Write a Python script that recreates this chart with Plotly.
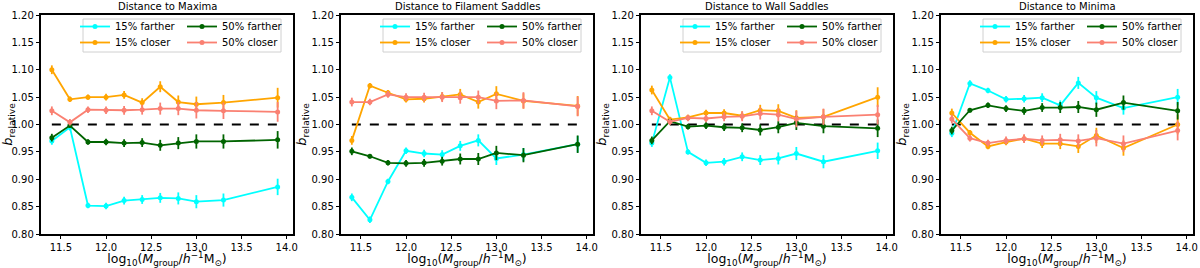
import plotly.graph_objects as go

# ---------------- data ----------------
mass = [11.4, 11.6, 11.8, 12.0, 12.2, 12.4, 12.6, 12.8, 13.0, 13.3, 13.9]

panel_titles = ["Distance to Maxima", "Distance to Filament Saddles",
                "Distance to Wall Saddles", "Distance to Minima"]

series_names = ["15% farther", "15% closer", "50% farther", "50% closer"]
series_colors = ["#00FFFF", "#FFA500", "#006400", "#FA8072"]

# Maxima
max_far15 = [0.970, 0.995, 0.852, 0.851, 0.861, 0.863, 0.866, 0.865, 0.859, 0.862, 0.886]
max_close15 = [1.100, 1.046, 1.050, 1.050, 1.054, 1.040, 1.069, 1.041, 1.037, 1.040, 1.049]
max_far50 = [0.976, 0.998, 0.968, 0.968, 0.966, 0.967, 0.962, 0.966, 0.969, 0.969, 0.972]
max_close50 = [1.025, 1.004, 1.027, 1.026, 1.026, 1.027, 1.029, 1.029, 1.026, 1.025, 1.023]

# Filament saddles
fil_far15 = [0.867, 0.826, 0.896, 0.952, 0.947, 0.945, 0.961, 0.971, 0.938, 0.945, 0.964]
fil_close15 = [0.971, 1.071, 1.058, 1.046, 1.047, 1.051, 1.055, 1.041, 1.056, 1.043, 1.034]
fil_far50 = [0.951, 0.942, 0.930, 0.929, 0.930, 0.933, 0.937, 0.937, 0.948, 0.944, 0.964]
fil_close50 = [1.041, 1.041, 1.055, 1.050, 1.050, 1.050, 1.049, 1.050, 1.043, 1.044, 1.033]

# Wall saddles
wall_far15 = [0.966, 1.086, 0.950, 0.930, 0.932, 0.941, 0.935, 0.938, 0.947, 0.932, 0.952]
wall_close15 = [1.063, 1.009, 1.013, 1.021, 1.021, 1.016, 1.026, 1.025, 1.012, 1.014, 1.050]
wall_far50 = [0.971, 1.006, 0.996, 0.998, 0.995, 0.994, 0.990, 0.995, 1.003, 0.997, 0.993]
wall_close50 = [1.025, 1.005, 1.012, 1.011, 1.014, 1.015, 1.020, 1.018, 1.010, 1.014, 1.018]

# Minima
min_far15 = [0.984, 1.075, 1.062, 1.046, 1.047, 1.049, 1.035, 1.076, 1.049, 1.030, 1.050]
min_close15 = [1.021, 0.985, 0.960, 0.968, 0.974, 0.965, 0.965, 0.960, 0.980, 0.957, 1.000]
min_far50 = [0.989, 1.026, 1.035, 1.029, 1.025, 1.031, 1.031, 1.032, 1.027, 1.040, 1.025]
min_close50 = [1.010, 0.975, 0.966, 0.971, 0.974, 0.971, 0.972, 0.970, 0.975, 0.965, 0.989]

# error bars (half-lengths)
err_far15 = [0.007, 0.006, 0.005, 0.006, 0.007, 0.008, 0.009, 0.011, 0.012, 0.012, 0.015]
err_close15 = [0.008, 0.005, 0.005, 0.006, 0.007, 0.008, 0.010, 0.012, 0.014, 0.014, 0.018]
err_far50 = [0.007, 0.004, 0.005, 0.006, 0.007, 0.008, 0.010, 0.011, 0.013, 0.013, 0.016]
err_close50 = [0.008, 0.006, 0.006, 0.007, 0.008, 0.009, 0.011, 0.012, 0.015, 0.015, 0.018]

panels = [
    [max_far15, max_close15, max_far50, max_close50],
    [fil_far15, fil_close15, fil_far50, fil_close50],
    [wall_far15, wall_close15, wall_far50, wall_close50],
    [min_far15, min_close15, min_far50, min_close50],
]
errors = [err_far15, err_close15, err_far50, err_close50]

reference_level = 1.0

# ---------------- layout geometry ----------------
W, H = 1200, 268
ML, MR, MT, MB = 41, 7, 15, 34
PW = W - ML - MR          # 1152
PH = H - MT - MB          # 219
panel_w = 252
panel_step = 300

FONT = "DejaVu Sans"

def legend_name(i):
    return "legend" if i == 0 else "legend%d" % (i + 1)

fig = go.Figure()

for p, series in enumerate(panels):
    ax = "" if p == 0 else str(p + 1)
    xref = "x" + ax
    yref = "y" + ax
    # reference dashed line
    fig.add_trace(go.Scatter(
        x=[min(mass), max(mass)], y=[reference_level, reference_level],
        mode="lines", line=dict(color="black", width=2, dash="dash"),
        showlegend=False, hoverinfo="skip", xaxis=xref, yaxis=yref))
    for s, (vals, name, col, err) in enumerate(zip(series, series_names, series_colors, errors)):
        row = 0 if s in (0, 2) else 1   # "farther" row, "closer" row
        fig.add_trace(go.Scatter(
            x=mass, y=vals, name=name, mode="lines+markers",
            line=dict(color=col, width=1.8),
            marker=dict(color=col, size=5),
            error_y=dict(type="data", array=err, color=col, thickness=1.8, width=0),
            xaxis=xref, yaxis=yref, legend=legend_name(2 * p + row)))

layout = dict(
    width=W, height=H,
    margin=dict(l=ML, r=MR, t=MT, b=MB, autoexpand=False),
    paper_bgcolor="white", plot_bgcolor="white",
    font=dict(family=FONT, size=10, color="black"),
    showlegend=True,
)

shapes = []
annotations = []
row_tops = [-3, 13]   # px below plot top
for p in range(4):
    ax = "" if p == 0 else str(p + 1)
    x0 = panel_step * p / PW
    x1 = (panel_step * p + panel_w) / PW
    common = dict(showline=True, linecolor="black", linewidth=1.5, mirror=True,
                  ticks="outside", ticklen=3.5, tickwidth=1.2, tickcolor="black",
                  showgrid=False, zeroline=False, automargin=False,
                  ticklabeloverflow="allow",
                  tickfont=dict(family=FONT, size=10, color="black"))
    layout["xaxis" + ax] = dict(
        domain=[x0, x1], range=[11.28, 14.07], anchor="y" + ax,
        tickvals=[11.5, 12.0, 12.5, 13.0, 13.5, 14.0], tickformat=".1f",
        title=dict(text="log<sub>10</sub>(<i>M</i><sub>group</sub>/<i>h</i><sup>\u22121</sup>M<sub>\u2299</sub>)",
                   font=dict(family=FONT, size=12.5), standoff=3),
        **common)
    layout["yaxis" + ax] = dict(
        domain=[0, 1], range=[0.80, 1.20], anchor="x" + ax,
        tickvals=[0.80, 0.85, 0.90, 0.95, 1.00, 1.05, 1.10, 1.15, 1.20], tickformat=".2f",
        title=dict(text="<i>b</i><sub>relative</sub>", font=dict(family=FONT, size=13), standoff=2),
        **common)
    # panel title
    annotations.append(dict(
        text=panel_titles[p], xref="x%s domain" % ax, yref="paper",
        x=0.5, y=1, yshift=1, xanchor="center", yanchor="bottom", showarrow=False,
        font=dict(family=FONT, size=10, color="black")))
    # legend frame
    shapes.append(dict(
        type="rect", xref="x%s domain" % ax, yref="y%s domain" % ax,
        x0=42 / panel_w, x1=240 / panel_w, y0=1 - 37 / PH, y1=1 - 4 / PH,
        line=dict(color="#d0d0d0", width=1), fillcolor="rgba(255,255,255,0.85)",
        layer="above"))
    for r, yt in enumerate(row_tops):
        layout[legend_name(2 * p + r)] = dict(
            orientation="h", entrywidth=62, entrywidthmode="pixels",
            x=(panel_step * p + 34) / PW, y=1 - yt / PH,
            xanchor="left", yanchor="top",
            bgcolor="rgba(0,0,0,0)", borderwidth=0,
            font=dict(family=FONT, size=10, color="black"),
            itemwidth=30)

layout["shapes"] = shapes
layout["annotations"] = annotations
fig.update_layout(**layout)

# remove the default 8px page margin so the figure sits at the window origin
fig.write_html("out.html", config={"displayModeBar": False},
               post_script="document.body.style.margin='0px';")
